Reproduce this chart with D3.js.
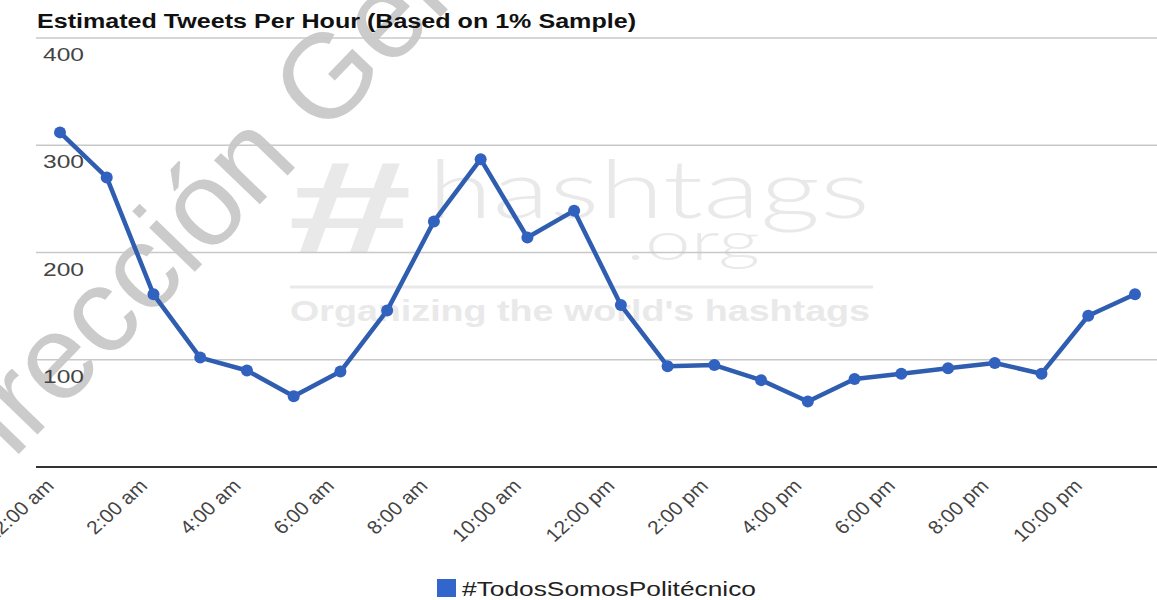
<!DOCTYPE html>
<html>
<head>
<meta charset="utf-8">
<script src="https://cdn.jsdelivr.net/npm/d3@7"></script>
<style>
  body { margin: 0; background: #fff; }
  svg { display: block; font-family: Arial, "Liberation Sans", sans-serif; }
</style>
</head>
<body>
<svg id="chart" width="1157" height="600"></svg>
<script>
// hourly estimate
var hours = ["12:00 am", "1:00 am", "2:00 am", "3:00 am", "4:00 am", "5:00 am",
             "6:00 am", "7:00 am", "8:00 am", "9:00 am", "10:00 am", "11:00 am",
             "12:00 pm", "1:00 pm", "2:00 pm", "3:00 pm", "4:00 pm", "5:00 pm",
             "6:00 pm", "7:00 pm", "8:00 pm", "9:00 pm", "10:00 pm", "11:00 pm"];
var tweets = [312, 270, 161, 102, 90, 66, 89, 146, 229, 287, 214, 239,
              151, 94, 95, 81, 61, 82, 87, 92, 97, 87, 141, 161];
var yTicks = [100, 200, 300, 400];
var seriesName = "#TodosSomosPolitécnico";
var title = "Estimated Tweets Per Hour (Based on 1% Sample)";

var svg = d3.select("#chart");
var stretch = 1.1; // the screenshot is a bit wider than tall

var x = d3.scalePoint().domain(hours).range([60, 1135]);
var y = d3.scaleLinear().domain([0, 400]).range([467, 38]);

// diagonal stamp, sits under everything
svg.append("text")
  .attr("transform", "translate(-47,522) rotate(-46)")
  .attr("font-size", 120)
  .attr("fill", "#cbcbcb")
  .text("Dirección General");

// hashtags.org logo watermark
var wm = svg.append("g").attr("fill", "#e9e9e9");
wm.append("text").attr("x", 288).attr("y", 252)
  .attr("font-size", 130).attr("font-weight", "bold")
  .attr("textLength", 124).attr("lengthAdjust", "spacingAndGlyphs")
  .text("#");
wm.append("text").attr("x", 428).attr("y", 218)
  .attr("font-family", "Lato, sans-serif").attr("font-weight", 300)
  .attr("font-size", 80)
  .attr("textLength", 442).attr("lengthAdjust", "spacingAndGlyphs")
  .text("hashtags");
wm.append("text").attr("x", 626).attr("y", 260)
  .attr("font-family", "Lato, sans-serif").attr("font-weight", 300)
  .attr("font-size", 54)
  .attr("textLength", 134).attr("lengthAdjust", "spacingAndGlyphs")
  .text(".org");
wm.append("line").attr("x1", 290).attr("x2", 873).attr("y1", 287).attr("y2", 287)
  .attr("stroke", "#e9e9e9").attr("stroke-width", 3);
wm.append("text").attr("x", 290).attr("y", 321)
  .attr("font-size", 30).attr("font-weight", "bold")
  .attr("textLength", 580).attr("lengthAdjust", "spacingAndGlyphs")
  .text("Organizing the world's hashtags");

// title
svg.append("text")
  .attr("x", 37).attr("y", 28)
  .attr("font-size", 20).attr("font-weight", "bold").attr("fill", "#111")
  .attr("textLength", 599).attr("lengthAdjust", "spacingAndGlyphs")
  .text(title);

// gridlines + y labels (labels sit under their line)
var grid = svg.append("g");
grid.selectAll("line").data(yTicks).enter().append("line")
  .attr("x1", 36).attr("x2", 1157)
  .attr("y1", function (d) { return y(d); })
  .attr("y2", function (d) { return y(d); })
  .attr("stroke", "#c8c8c8").attr("stroke-width", 1.5);
grid.selectAll("text").data(yTicks).enter().append("text")
  .attr("x", 43)
  .attr("y", function (d) { return y(d) + 23; })
  .attr("font-size", 19).attr("fill", "#444")
  .attr("textLength", 41).attr("lengthAdjust", "spacingAndGlyphs")
  .text(function (d) { return d; });

// baseline
svg.append("line")
  .attr("x1", 36).attr("x2", 1157).attr("y1", y(0)).attr("y2", y(0))
  .attr("stroke", "#333").attr("stroke-width", 2);

// x labels, every other hour, slanted
svg.append("g").selectAll("text")
  .data(hours.filter(function (d, i) { return i % 2 === 0; }))
  .enter().append("text")
    .attr("transform", function (d) {
      return "translate(" + (x(d) - 5) + ",487) scale(" + stretch + ",1) rotate(-45)";
    })
    .attr("text-anchor", "end")
    .attr("font-size", 19).attr("fill", "#444")
    .text(function (d) { return d; });

// series
var line = d3.line()
  .x(function (d, i) { return x(hours[i]); })
  .y(function (d) { return y(d); });

svg.append("path")
  .datum(tweets)
  .attr("d", line)
  .attr("fill", "none")
  .attr("stroke", "#2f5db0")
  .attr("stroke-width", 4.5)
  .attr("stroke-linejoin", "round");

svg.append("g").selectAll("circle")
  .data(tweets).enter().append("circle")
    .attr("cx", function (d, i) { return x(hours[i]); })
    .attr("cy", function (d) { return y(d); })
    .attr("r", 6)
    .attr("fill", "#3262c0");

// legend
var legend = svg.append("g");
legend.append("rect")
  .attr("x", 437).attr("y", 579).attr("width", 19).attr("height", 18)
  .attr("fill", "#3366cc");
legend.append("text")
  .attr("x", 462).attr("y", 596)
  .attr("font-size", 20).attr("fill", "#222")
  .attr("textLength", 294).attr("lengthAdjust", "spacingAndGlyphs")
  .text(seriesName);
</script>
</body>
</html>
